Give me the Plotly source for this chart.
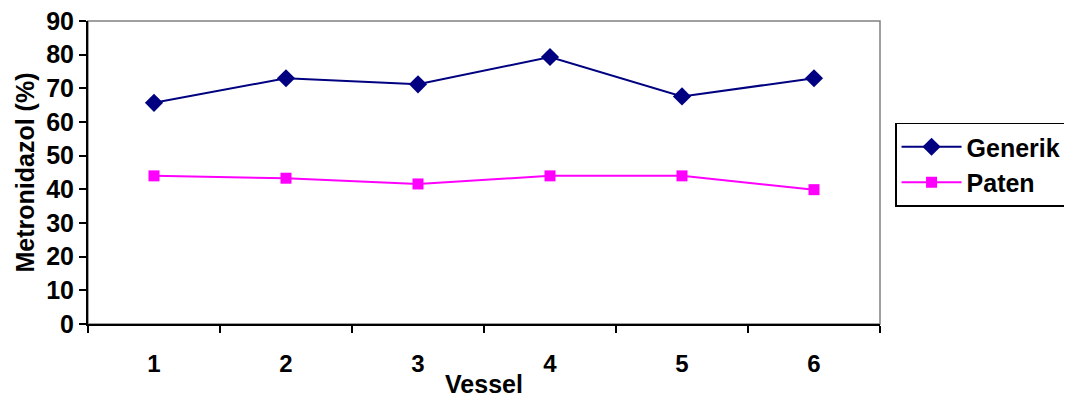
import plotly.graph_objects as go

vessels = [1, 2, 3, 4, 5, 6]
vessel_labels = ["1", "2", "3", "4", "5", "6"]
generik = [65.7, 73.0, 71.2, 79.3, 67.6, 73.0]
paten = [44.0, 43.3, 41.6, 44.0, 44.0, 39.9]
y_ticks = [0, 10, 20, 30, 40, 50, 60, 70, 80, 90]

FONT = "Liberation Sans, Arial, sans-serif"

fig = go.Figure()
fig.add_trace(go.Scatter(
    x=vessels, y=generik, name="Generik", mode="lines+markers",
    line=dict(color="#000080", width=2),
    marker=dict(symbol="diamond", size=14, color="#000080"),
))
fig.add_trace(go.Scatter(
    x=vessels, y=paten, name="Paten", mode="lines+markers",
    line=dict(color="#FF00FF", width=2),
    marker=dict(symbol="square", size=11, color="#FF00FF"),
))

fig.add_shape(type="rect", xref="paper", yref="paper", x0=0, y0=0, x1=1, y1=1,
              line=dict(color="#808080", width=1.5), layer="below")

fig.update_layout(
    width=1072, height=403,
    margin=dict(l=80, r=200, t=13, b=87, autoexpand=False),
    paper_bgcolor="white", plot_bgcolor="white",
    font=dict(family=FONT, size=24, color="black", weight="bold"),
    showlegend=True,
    legend=dict(
        x=1.019, xanchor="left", y=0.665, yanchor="top",
        bordercolor="black", borderwidth=1.5,
        font=dict(family=FONT, size=25, color="black", weight="bold"),
        bgcolor="white", tracegroupgap=0, itemwidth=60,
    ),
    xaxis=dict(
        range=[0.5, 6.5], tickvals=vessels, ticktext=vessel_labels,
        ticks="", showgrid=False, zeroline=False, automargin=False,
        showline=True, linecolor="black", linewidth=2,
        tickfont=dict(family=FONT, size=24, weight="bold"),
        minor=dict(tickvals=[0.5, 1.5, 2.5, 3.5, 4.5, 5.5, 6.5], ticks="outside",
                   ticklen=7, tickcolor="black", tickwidth=1.5, showgrid=False),
        title=dict(text="Vessel", font=dict(family=FONT, size=25, weight="bold"), standoff=0),
        ticklabelstandoff=17, ticklabeloverflow="allow",
    ),
    yaxis=dict(
        range=[0, 90], tickvals=y_ticks,
        ticks="outside", ticklen=7, tickcolor="black", tickwidth=1.5,
        showgrid=False, zeroline=False, automargin=False,
        showline=True, linecolor="black", linewidth=2,
        tickfont=dict(family=FONT, size=25, weight="bold"),
        ticklabeloverflow="allow",
        title=dict(text="Metronidazol (%)", font=dict(family=FONT, size=25, weight="bold"), standoff=4),
    ),
)

fig.write_html("out.html")
